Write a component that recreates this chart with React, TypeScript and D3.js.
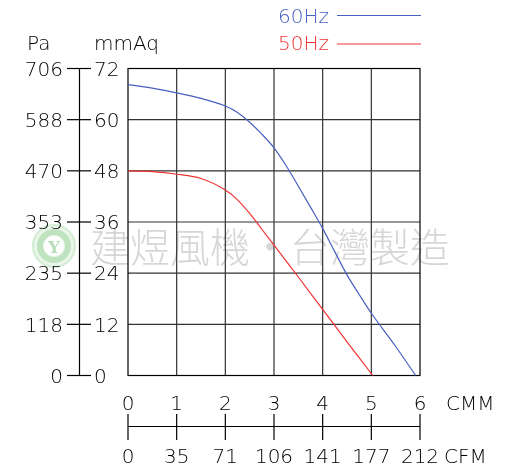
import React from "react";
import * as d3 from "d3";

// CMM axis ticks and matching CFM labels
const cmmTicks = [0, 1, 2, 3, 4, 5, 6];
const cfmLabels = ["0", "35", "71", "106", "141", "177", "212"];

// pressure ticks (mmAq) and matching Pa labels
const mmAqTicks = [0, 12, 24, 36, 48, 60, 72];
const paLabels = ["0", "118", "235", "353", "470", "588", "706"];

// curves: [CMM, mmAq]
const curve60: [number, number][] = [
	[0, 68.2], [0.5, 67.4], [1, 66.3], [1.5, 65.0], [2, 63.2], [2.25, 61.7], [2.5, 59.4],
	[2.75, 56.6], [3, 53.4], [3.25, 49.2], [3.5, 44.4], [3.75, 39.5], [4, 34.5],
	[4.25, 29.0], [4.5, 23.6], [4.75, 19.0], [5, 14.6], [5.5, 6.8], [5.91, 0],
];
const curve50: [number, number][] = [
	[0, 48.0], [0.5, 47.8], [1, 47.2], [1.5, 46.2], [2, 43.5], [2.25, 41.2], [2.5, 38.0],
	[2.75, 34.3], [3, 30.6], [3.5, 23.1], [4, 15.5], [4.5, 7.9], [5.03, 0],
];

const series = [
	{ name: "60Hz", color: "#4860c0", data: curve60 },
	{ name: "50Hz", color: "#f03434", data: curve50 },
];

const FONT = "'DejaVu Sans', sans-serif";

const App: React.FC = () => {
	const width = 506;
	const height = 469;
	const plot = { left: 128, right: 420, top: 68.5, bottom: 375.5 };

	const x = d3.scaleLinear().domain([0, 6]).range([plot.left, plot.right]);
	const y = d3.scaleLinear().domain([0, 72]).range([plot.bottom, plot.top]);

	const line = d3
		.line<[number, number]>()
		.x((d) => x(d[0]))
		.y((d) => y(d[1]))
		.curve(d3.curveCatmullRom.alpha(0.5));

	const axisX = 79.5;
	const cfmY = 426.5;
	const textStyle = { fontFamily: FONT, fontWeight: 200, fontSize: 20 };

	return (
		<svg width={width} height={height} style={{ position: "absolute", left: 0, top: 0, willChange: "transform" }}>
			<rect width={width} height={height} fill="#fff" />

			{/* watermark */}
			<g>
				<circle cx={54} cy={246} r={21} fill="#eaf6ea" stroke="#d2ecd2" strokeWidth={2} />
				<circle cx={54} cy={246} r={14} fill="none" stroke="#bfe3bf" strokeWidth={6} />
				<circle cx={54} cy={246} r={10} fill="#fff" />
				<text x={54} y={253} textAnchor="middle" fontFamily="'DejaVu Serif', serif" fontSize={17} fontWeight="bold" fill="#b6ddb6">
					Y
				</text>
				<text x={90} y={262} fontFamily="'Noto Sans CJK TC', sans-serif" fontWeight={300} fontSize={40} fill="#d6d6d6">
					建煜風機・台灣製造
				</text>
			</g>

			{/* grid */}
			{cmmTicks.slice(1, -1).map((t) => (
				<line key={"gx" + t} x1={x(t)} x2={x(t)} y1={plot.top} y2={plot.bottom} stroke="#333" strokeWidth={1.2} />
			))}
			{mmAqTicks.slice(1, -1).map((t) => (
				<line key={"gy" + t} x1={plot.left} x2={plot.right} y1={y(t)} y2={y(t)} stroke="#333" strokeWidth={1.2} />
			))}
			<rect x={plot.left} y={plot.top} width={plot.right - plot.left} height={plot.bottom - plot.top} fill="none" stroke="#000" strokeWidth={1.2} />

			{/* curves */}
			{series.map((s) => (
				<path key={s.name} d={line(s.data) || ""} fill="none" stroke={s.color} strokeWidth={1.2} />
			))}

			{/* left double axis */}
			<line x1={axisX} x2={axisX} y1={y(72)} y2={y(0)} stroke="#000" strokeWidth={1.2} />
			{mmAqTicks.map((t, i) => (
				<g key={"ly" + t}>
					<line x1={67} x2={91} y1={y(t)} y2={y(t)} stroke="#000" strokeWidth={1.2} />
					<text x={63} y={y(t)} dy="0.36em" textAnchor="end" {...textStyle}>
						{paLabels[i]}
					</text>
					<text x={94} y={y(t)} dy="0.36em" {...textStyle}>
						{t}
					</text>
				</g>
			))}
			<text x={27} y={50} {...textStyle}>Pa</text>
			<text x={94} y={50} {...textStyle}>mmAq</text>

			{/* bottom double axis */}
			<line x1={x(0)} x2={x(6)} y1={cfmY} y2={cfmY} stroke="#000" strokeWidth={1.2} />
			{cmmTicks.map((t, i) => (
				<g key={"bx" + t}>
					<line x1={x(t)} x2={x(t)} y1={414} y2={440} stroke="#000" strokeWidth={1.2} />
					<text x={x(t)} y={410} textAnchor="middle" fill="#000" {...textStyle}>
						{String(t)}
					</text>
					<text x={x(t)} y={463} textAnchor="middle" {...textStyle}>
						{cfmLabels[i]}
					</text>
				</g>
			))}
			<text x={446} y={410} {...textStyle}>CMM</text>
			<text x={444} y={463} {...textStyle}>CFM</text>

			{/* legend */}
			{series.map((s, i) => (
				<g key={"lg" + s.name}>
					<text x={278} y={23 + i * 27} {...textStyle} fill={s.color}>
						{s.name}
					</text>
					<line x1={337} x2={421} y1={15.5 + i * 28.5} y2={15.5 + i * 28.5} stroke={s.color} strokeWidth={1.2} />
				</g>
			))}
		</svg>
	);
};

export default App;
